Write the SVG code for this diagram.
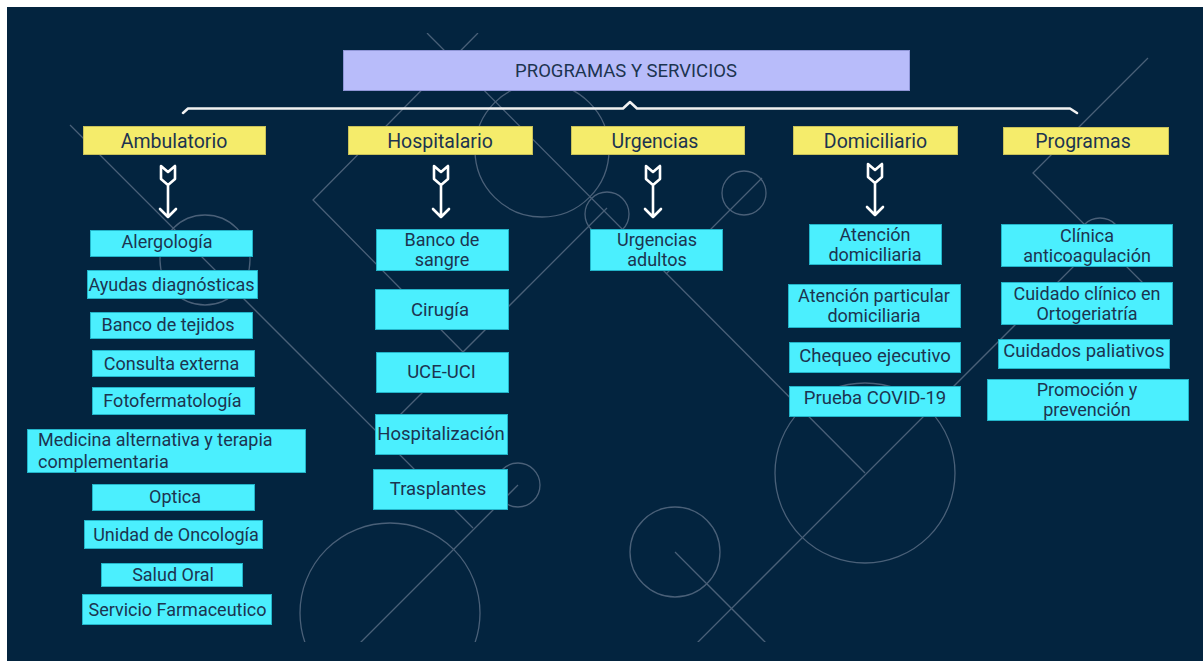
<svg xmlns="http://www.w3.org/2000/svg" width="1203" height="661" viewBox="0 0 1203 661">
<defs>
<style>
.deco{fill:none;stroke:#4a6078;stroke-width:1.3}
.brace{fill:none;stroke:#f2f2f2;stroke-width:2.5;stroke-linejoin:round;stroke-linecap:round}
.arrow{fill:none;stroke:#ffffff;stroke-width:2.6;stroke-linejoin:round;stroke-linecap:round}
.title rect{fill:#b8bcfa;stroke:#8f95d6;stroke-width:1}
.cat rect{fill:#f5ec6b;stroke:#c8c15a;stroke-width:1}
.item rect{fill:#4beffe;stroke:#23b4c9;stroke-width:1}
text{font-family:Roboto,"Noto Sans",sans-serif;fill:#1c3450;text-anchor:middle}
.title text{font-size:18.5px}
.cat text{font-size:19.5px}
.item text{font-size:18.5px}
.item text.two{font-size:18px}
.amb text{font-size:18px}
.amb text.two{font-size:18px}
</style>
<clipPath id="bgclip"><rect x="7" y="33" width="1196" height="609"/></clipPath>
</defs>
<rect x="0" y="0" width="1203" height="661" fill="#ffffff"/>
<rect x="7" y="7" width="1196" height="654" fill="#03243f"/>
<g id="decor" class="deco" clip-path="url(#bgclip)">
<line x1="70" y1="125" x2="473" y2="528"/>
<line x1="518" y1="485" x2="360" y2="643"/>
<circle cx="518" cy="485" r="22"/>
<circle cx="390" cy="613" r="90"/>
<circle cx="205" cy="260" r="45"/>
<circle cx="542" cy="150" r="67"/>
<polyline points="478,33 313,200 463,352"/>
<line x1="380" y1="435" x2="607" y2="208"/>
<circle cx="607" cy="214" r="22"/>
<line x1="427" y1="33" x2="865" y2="473"/>
<circle cx="744" cy="193" r="22"/>
<line x1="762" y1="178" x2="666" y2="274"/>
<circle cx="675" cy="552" r="45"/>
<line x1="675" y1="552" x2="767" y2="644"/>
<line x1="696" y1="644" x2="1100" y2="240"/>
<circle cx="865" cy="473" r="90"/>
<polyline points="1148,58 1033,173 1150,290"/>
<circle cx="1100" cy="240" r="22"/>
</g>
<g id="connectors">
<path class="brace" d="M183,113 L188,108.5 L623,108.5 L630,102 L637,108.5 L1070,108.5 L1077,113"/>
<g class="arrow">
<path d="M161,166 L168,172 L175,166 L175,179 L168,185 L161,179 Z M168,185 L168,217 M160,209 L168,217 L176,209"/>
<path d="M434,166 L441,172 L448,166 L448,179 L441,185 L434,179 Z M441,185 L441,217 M433,209 L441,217 L449,209"/>
<path d="M646,166 L653,172 L660,166 L660,179 L653,185 L646,179 Z M653,185 L653,217 M645,209 L653,217 L661,209"/>
<path d="M868,164 L875,170 L882,164 L882,177 L875,183 L868,177 Z M875,183 L875,215 M867,207 L875,215 L883,207"/>
</g>
</g>
<g id="title" class="title">
<rect x="343.5" y="50.5" width="566" height="40"/>
<text x="626" y="77">PROGRAMAS Y SERVICIOS</text>
</g>
<g id="cat-ambulatorio" class="cat"><rect x="83.5" y="126.5" width="182" height="28"/><text x="174" y="148">Ambulatorio</text></g>
<g id="cat-hospitalario" class="cat"><rect x="348.5" y="126.5" width="184" height="28"/><text x="440" y="148">Hospitalario</text></g>
<g id="cat-urgencias" class="cat"><rect x="571.5" y="126.5" width="173" height="28"/><text x="655" y="148">Urgencias</text></g>
<g id="cat-domiciliario" class="cat"><rect x="793.5" y="126.5" width="164" height="28"/><text x="875.5" y="148">Domiciliario</text></g>
<g id="cat-programas" class="cat"><rect x="1003.5" y="127.5" width="165" height="27"/><text x="1083" y="148">Programas</text></g>

<g id="alergologia" class="item amb"><rect x="90.5" y="230.5" width="162" height="26"/><text x="167" y="248">Alergología</text></g>
<g id="ayudas" class="item amb"><rect x="87.5" y="270.5" width="170" height="28"/><text x="171.5" y="291">Ayudas diagnósticas</text></g>
<g id="banco-tejidos" class="item amb"><rect x="90.5" y="312.5" width="162" height="26"/><text x="168" y="331">Banco de tejidos</text></g>
<g id="consulta" class="item amb"><rect x="92.5" y="350.5" width="162" height="26"/><text x="171.5" y="370">Consulta externa</text></g>
<g id="fotofermatologia" class="item amb"><rect x="92.5" y="387.5" width="162" height="27"/><text x="172.5" y="407">Fotofermatología</text></g>
<g id="medicina" class="item amb"><rect x="27.5" y="429.5" width="278" height="43"/><text class="two" x="38" y="446" style="text-anchor:start">Medicina alternativa y terapia</text><text class="two" x="38" y="468" style="text-anchor:start">complementaria</text></g>
<g id="optica" class="item amb"><rect x="92.5" y="484.5" width="162" height="26"/><text x="175" y="503">Optica</text></g>
<g id="oncologia" class="item amb"><rect x="84.5" y="520.5" width="178" height="28"/><text x="176" y="541">Unidad de Oncología</text></g>
<g id="salud-oral" class="item amb"><rect x="101.5" y="563.5" width="141" height="23"/><text x="173" y="581">Salud Oral</text></g>
<g id="farmaceutico" class="item amb"><rect x="82.5" y="594.5" width="189" height="30"/><text x="177.5" y="616">Servicio Farmaceutico</text></g>

<g id="banco-sangre" class="item"><rect x="376.5" y="229.5" width="132" height="41"/><text class="two" x="442" y="246">Banco de</text><text class="two" x="442" y="266">sangre</text></g>
<g id="cirugia" class="item"><rect x="375.5" y="289.5" width="133" height="40"/><text x="440" y="316">Cirugía</text></g>
<g id="uce-uci" class="item"><rect x="376.5" y="352.5" width="132" height="40"/><text x="441.5" y="378">UCE-UCI</text></g>
<g id="hospitalizacion" class="item"><rect x="375.5" y="414.5" width="132" height="40"/><text x="441" y="440">Hospitalización</text></g>
<g id="trasplantes" class="item"><rect x="373.5" y="469.5" width="134" height="40"/><text x="438" y="495">Trasplantes</text></g>

<g id="urgencias-adultos" class="item"><rect x="590.5" y="229.5" width="132" height="41"/><text class="two" x="657" y="246">Urgencias</text><text class="two" x="657" y="266">adultos</text></g>

<g id="atencion-dom" class="item"><rect x="809.5" y="224.5" width="132" height="40"/><text class="two" x="875" y="241">Atención</text><text class="two" x="875" y="261">domiciliaria</text></g>
<g id="atencion-part" class="item"><rect x="788.5" y="284.5" width="172" height="43"/><text class="two" x="874" y="302">Atención particular</text><text class="two" x="874" y="322">domiciliaria</text></g>
<g id="chequeo" class="item"><rect x="789.5" y="342.5" width="171" height="30"/><text x="875" y="362">Chequeo ejecutivo</text></g>
<g id="covid" class="item"><rect x="789.5" y="386.5" width="171" height="30"/><text x="875" y="404">Prueba COVID-19</text></g>

<g id="clinica" class="item"><rect x="1001.5" y="224.5" width="171" height="42"/><text class="two" x="1087" y="242">Clínica</text><text class="two" x="1087" y="262">anticoagulación</text></g>
<g id="cuidado-orto" class="item"><rect x="1001.5" y="282.5" width="171" height="42"/><text class="two" x="1087" y="300">Cuidado clínico en</text><text class="two" x="1087" y="320">Ortogeriatría</text></g>
<g id="paliativos" class="item"><rect x="998.5" y="339.5" width="171" height="29"/><text x="1084" y="357">Cuidados paliativos</text></g>
<g id="promocion" class="item"><rect x="987.5" y="379.5" width="201" height="41"/><text class="two" x="1087" y="396">Promoción y</text><text class="two" x="1087" y="416">prevención</text></g>
</svg>
